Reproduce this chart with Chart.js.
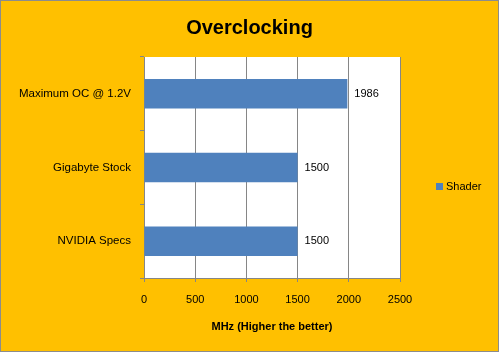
<!DOCTYPE html>
<html>
<head>
<meta charset="utf-8">
<script src="https://cdn.jsdelivr.net/npm/chart.js@4"></script>
<style>
  body { margin: 0; background: #fff; }
  #wrap {
    width: 499px; height: 352px; box-sizing: border-box;
    border: 1px solid #8c8c8c; background: #FFC000;
  }
  canvas { display: block; }
</style>
</head>
<body>
<div id="wrap"><canvas id="chart" width="497" height="350"></canvas></div>
<script>
const categories = ["Maximum OC @ 1.2V", "Gigabyte Stock", "NVIDIA Specs"];
const shaderValues = [1986, 1500, 1500];
const xTicks = [0, 500, 1000, 1500, 2000, 2500];
const chartTitle = "Overclocking";

const FONT = "'Liberation Sans', Arial, sans-serif";
const gridColor = "#868686";

// white plot area + title centred on the whole canvas
const frame = {
    id: "frame",
    beforeDraw(chart) {
        const ctx = chart.ctx;
        const a = chart.chartArea;
        ctx.save();
        ctx.fillStyle = "#fff";
        ctx.fillRect(a.left, a.top, a.right - a.left, a.bottom - a.top);
        ctx.font = "bold 20px " + FONT;
        ctx.fillStyle = "#000";
        ctx.textAlign = "center";
        ctx.textBaseline = "middle";
        ctx.fillText(chartTitle, chart.width / 2, 27);
        ctx.restore();
    }
};

// value labels at the end of each bar
const barLabels = {
    id: "barLabels",
    afterDatasetsDraw(chart) {
        const ctx = chart.ctx;
        ctx.save();
        ctx.font = "11px " + FONT;
        ctx.fillStyle = "#000";
        ctx.textBaseline = "middle";
        chart.getDatasetMeta(0).data.forEach((bar, i) => {
            ctx.fillText(String(shaderValues[i]), bar.x + 7, bar.y);
        });
        ctx.restore();
    }
};

// legend drawn on the right like the original
const sideLegend = {
    id: "sideLegend",
    afterDraw(chart) {
        const ctx = chart.ctx;
        const ds = chart.data.datasets[0];
        ctx.save();
        ctx.fillStyle = ds.backgroundColor;
        ctx.fillRect(435, 182, 7, 7);
        ctx.font = "11px " + FONT;
        ctx.fillStyle = "#000";
        ctx.textBaseline = "middle";
        ctx.fillText(ds.label, 445, 186);
        ctx.restore();
    }
};

new Chart(document.getElementById("chart"), {
    type: "bar",
    data: {
        labels: categories,
        datasets: [{
            label: "Shader",
            data: shaderValues,
            backgroundColor: "#4F81BD",
            barPercentage: 0.4,
            categoryPercentage: 1.0
        }]
    },
    options: {
        indexAxis: "y",
        responsive: false,
        animation: false,
        layout: { padding: { top: 56, right: 98, bottom: 17, left: 0 } },
        plugins: {
            legend: { display: false },
            tooltip: { enabled: false },
            title: { display: false }
        },
        scales: {
            x: {
                min: 0,
                max: 2500,
                afterBuildTicks(scale) {
                    scale.ticks = xTicks.map(v => ({ value: v }));
                },
                afterFit(scale) { scale.height = 56; },
                grid: {
                    color: gridColor,
                    lineWidth: 1,
                    drawTicks: true,
                    tickLength: 4
                },
                border: { color: gridColor },
                ticks: {
                    color: "#000",
                    font: { family: FONT, size: 11 },
                    padding: 11,
                    maxRotation: 0,
                    callback: v => String(v)
                },
                title: {
                    display: true,
                    text: "MHz (Higher the better)",
                    color: "#000",
                    font: { family: FONT, size: 11, weight: "bold" },
                    padding: { top: 8, bottom: 0 }
                }
            },
            y: {
                afterFit(scale) { scale.width = 143; },
                grid: {
                    offset: true,
                    drawOnChartArea: false,
                    drawTicks: true,
                    tickLength: 4,
                    color: gridColor
                },
                border: { color: gridColor },
                ticks: {
                    color: "#000",
                    font: { family: FONT, size: 11.5 },
                    padding: 9
                }
            }
        }
    },
    plugins: [frame, barLabels, sideLegend]
});
</script>
</body>
</html>
